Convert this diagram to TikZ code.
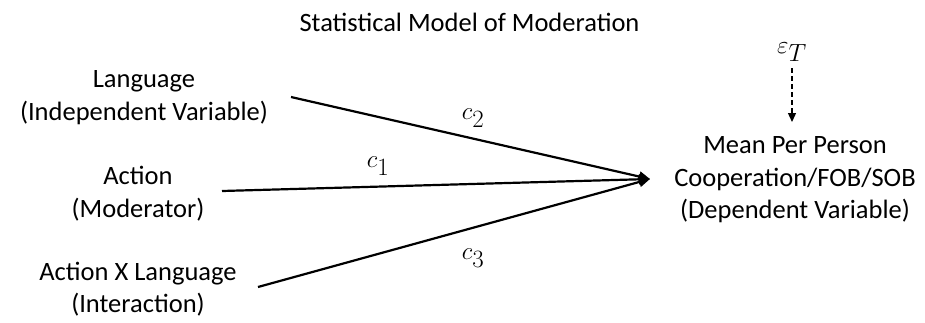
\documentclass[tikz,border=0pt]{standalone}
\usepackage{fontspec}
\setmainfont{Carlito}
\usetikzlibrary{arrows.meta}
\begin{document}
\begin{tikzpicture}[x=1pt,y=-1pt,
  lbl/.style={align=center,inner sep=0pt,font=\fontsize{26.5}{32.5}\selectfont},
  pathline/.style={line width=2.2pt,-{Triangle[length=11pt,width=10pt]}},
  coef/.style={inner sep=0pt,font=\fontsize{33}{36}\selectfont},
  errline/.style={line width=1.3pt,dash pattern=on 5pt off 3pt,-{Triangle[length=9pt,width=8pt]}}]
\useasboundingbox (0,0) rectangle (925,322);
\node[lbl] (title) at (469.5,22) {Statistical Model of Moderation};
\node[lbl] (lang) at (144,97.5) {Language\\(Independent Variable)};
\node[lbl] (act) at (138,193.5) {Action\\(Moderator)};
\node[lbl] (inter) at (138,289) {Action X Language\\(Interaction)};
\node[lbl] (dep) at (795,180) {Mean Per Person\\Cooperation/FOB/SOB\\(Dependent Variable)};
\node[coef] (eps) at (792,52) {$\varepsilon_T$};
\coordinate (tip) at (650,179);
\coordinate (langend) at (291,97);
\coordinate (actend) at (222,191);
\coordinate (interend) at (258,287);
\coordinate (etop) at (792,68);
\coordinate (ebot) at (792,122);
\draw[pathline] (langend) -- (tip);
\draw[pathline] (actend) -- (tip);
\draw[pathline] (interend) -- (tip);
\draw[errline] (etop) -- (ebot);
\node[coef] (c2) at (473,118) {$c_2$};
\node[coef] (c1) at (378,166) {$c_1$};
\node[coef] (c3) at (473,258) {$c_3$};
\end{tikzpicture}
\end{document}
